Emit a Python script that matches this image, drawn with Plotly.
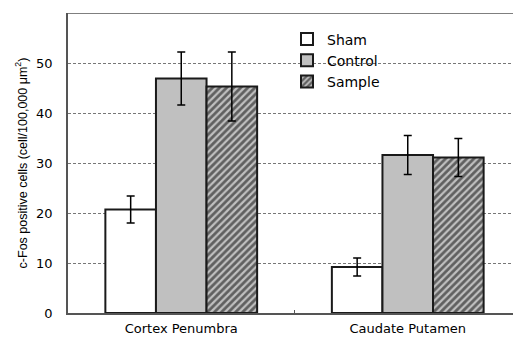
import plotly.graph_objects as go

categories = ["Cortex Penumbra", "Caudate Putamen"]
sham = [20.7, 9.2]
sham_err = [2.7, 1.8]
control = [46.9, 31.6]
control_err = [5.3, 3.9]
sample = [45.3, 31.1]
sample_err = [6.9, 3.8]
y_ticks = [0, 10, 20, 30, 40, 50, 60]

err_style = dict(type="data", thickness=1.5, width=4, color="black")
line_style = dict(color="#1a1a1a", width=2)

fig = go.Figure()
fig.add_trace(go.Bar(name="Sham", x=categories, y=sham,
                     error_y=dict(array=sham_err, **err_style),
                     marker=dict(color="white", line=line_style)))
fig.add_trace(go.Bar(name="Control", x=categories, y=control,
                     error_y=dict(array=control_err, **err_style),
                     marker=dict(color="#c0c0c0", line=line_style)))
fig.add_trace(go.Bar(name="Sample", x=categories, y=sample,
                     error_y=dict(array=sample_err, **err_style),
                     marker=dict(color="#c0c0c0", line=line_style,
                                 pattern=dict(shape="/", fgcolor="black",
                                              bgcolor="#c0c0c0", size=5,
                                              solidity=0.55))))

# page body has an 8px margin, so the figure is sized/offset to compensate
fig.update_layout(
    width=513, height=329,
    margin=dict(l=60, r=0, t=5, b=24, autoexpand=False),
    paper_bgcolor="white", plot_bgcolor="white",
    barmode="group", bargap=0.33, bargroupgap=0,
    font=dict(family="DejaVu Sans", color="black"),
    showlegend=True,
    legend=dict(x=(279 - 60) / 453, y=0.965, xanchor="left", yanchor="top",
                bgcolor="rgba(0,0,0,0)", font=dict(size=14, family="DejaVu Sans"),
                itemwidth=30, tracegroupgap=0),
    xaxis=dict(showline=True, linecolor="#555555", linewidth=1.5,
               ticks="inside", tickson="boundaries", ticklen=3,
               tickcolor="#555555", tickwidth=1,
               tickfont=dict(size=13, family="DejaVu Sans"),
               ticklabelstandoff=3, showgrid=False, automargin=False),
    yaxis=dict(range=[0, 60], tickvals=y_ticks, showline=True,
               linecolor="#555555", linewidth=1.5, ticks="",
               tickfont=dict(size=13, family="DejaVu Sans"),
               ticklabelstandoff=11, automargin=False,
               showgrid=True, gridcolor="#777777", gridwidth=1,
               griddash="3px,2px", zeroline=False,
               title=dict(text="c-Fos positive cells (cell/100,000 \u03bcm<sup>2</sup>)",
                          font=dict(size=12.5, family="Liberation Sans"),
                          standoff=6)),
    shapes=[dict(type="line", xref="paper", yref="y", x0=0, x1=1, y0=60, y1=60,
                 line=dict(color="#555555", width=1.5))],
)
fig.write_html("out.html")
